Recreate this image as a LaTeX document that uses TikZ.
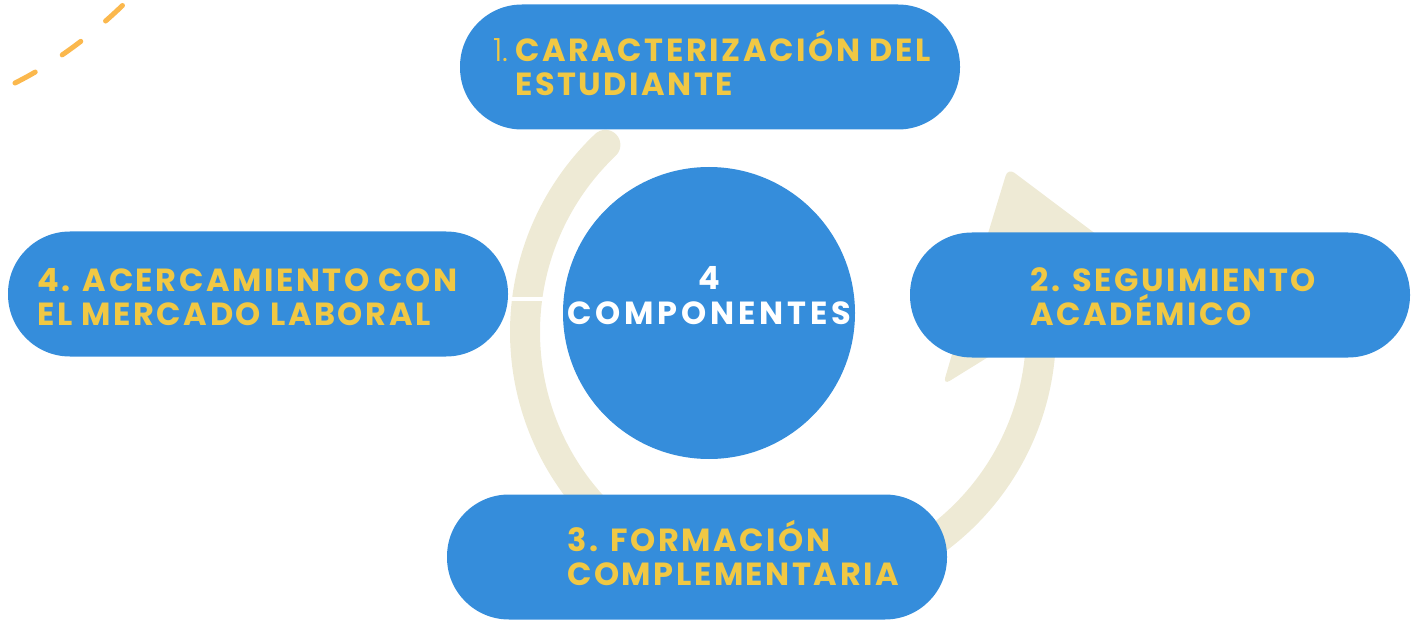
\documentclass[tikz,border=0pt]{standalone}
\usepackage{fontspec}
\setmainfont{Poppins}
\newfontfamily\popb{Poppins}[UprightFont=* Bold, LetterSpace=8]
\newfontfamily\popbw{Poppins}[UprightFont=* Bold, LetterSpace=12]
\newfontfamily\popl{Poppins}[UprightFont=* Light]
\definecolor{pillblue}{HTML}{358DDB}
\definecolor{labelyellow}{HTML}{F0C844}
\definecolor{arcbeige}{HTML}{EEEAD5}
\definecolor{dashorange}{HTML}{FBB84D}
\newcommand\twoline[2]{\vtop{\baselineskip=34pt\lineskiplimit=-\maxdimen\hbox{#1}\hbox{#2}}}
\newcommand\twolinec[2]{\vtop{\baselineskip=35pt\lineskiplimit=-\maxdimen\halign{\hfil##\hfil\cr#1\cr#2\cr}}}
\begin{document}
\begin{tikzpicture}[x=1pt,y=-1pt,
  pill/.style={rectangle, fill=pillblue, minimum width=500pt, minimum height=125pt,
    rounded corners=62pt, inner sep=0pt},
  hub/.style={circle, fill=pillblue, minimum size=292pt, inner sep=0pt},
  lbl/.style={anchor=base west, inner sep=0pt, text=labelyellow,
    font=\popb\fontsize{32}{34}\selectfont},
  hublbl/.style={anchor=base, inner sep=0pt, text=white,
    font=\popbw\fontsize{32}{35}\selectfont},
  cyclearc/.style={draw=arcbeige, line width=30pt},
  cyclehead/.style={fill=arcbeige, rounded corners=8pt},
  cutline/.style={draw=white, line width=4pt},
  dashline/.style={draw=dashorange, line width=5pt, line cap=round, dash pattern=on 23pt off 32pt}]
\useasboundingbox (0,0) rectangle (1422,631);
% decorative dashed stroke
\draw[dashline] (15,83) .. controls (55,63) and (93,34) .. (123,5);
% cycle arrow behind the boxes
\draw[cyclearc, line cap=round] plot[domain=226.5:125, samples=80, variable=\t]
  ({783+258*cos(\t)},{332+258*sin(\t)});
\draw[cyclearc] plot[domain=55:-2, samples=60, variable=\t]
  ({783+258*cos(\t)},{332+258*sin(\t)});
\fill[cyclehead] (975,276) -- (1008,168) -- (1137,265) -- (943,385) -- cycle;
% boxes
\node[pill] (b1) at (710,67) {};
\node[pill] (b2) at (1160,295) {};
\node[pill] (b3) at (697,557) {};
\node[pill] (b4) at (258,294) {};
\node[hub] (c) at (709,313) {};
\draw[cutline] ([yshift=-5pt]b4.east) -- ([yshift=-5pt]b4.east -| c.west);
% labels
\node[lbl] (t1) at (515,62) {\twoline{\llap{\popl\color{labelyellow}1.\hspace{7pt}}CARACTERIZACIÓN DEL}{ESTUDIANTE}};
\node[lbl] (t2) at (1030,291) {\twoline{2. SEGUIMIENTO}{ACADÉMICO}};
\node[lbl] (t3) at (567,551) {\twoline{3. FORMACIÓN}{COMPLEMENTARIA}};
\node[lbl] (t4) at (37,291) {\twoline{4. ACERCAMIENTO CON}{EL MERCADO LABORAL}};
\node[hublbl] (t5) at (709,290) {\twolinec{4}{COMPONENTES}};
\end{tikzpicture}
\end{document}
